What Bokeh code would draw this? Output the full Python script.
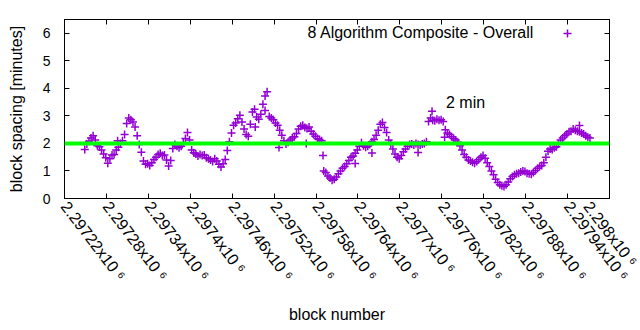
from bokeh.plotting import figure
from bokeh.models import (Range1d, FixedTicker, LinearAxis, Span, Label,
                          Legend, LegendItem)
from bokeh.embed import file_html
from bokeh.resources import INLINE

# ---------------- data ----------------
start_block = 2297249
block_step = 3
spacing = [
    1.78, 1.98, 2.08, 2.2, 2.28, 2.12, 1.92, 1.88, 1.76, 1.62,
    1.48, 1.28, 1.44, 1.58, 1.6, 1.76, 1.86, 2.0, 2.1, 2.32,
    2.72, 2.92, 2.86, 2.78, 2.6, 2.28, 1.96, 1.68, 1.36, 1.24,
    1.26, 1.2, 1.3, 1.42, 1.5, 1.6, 1.64, 1.56, 1.58, 1.4,
    1.18, 1.38, 1.82, 1.96, 1.9, 1.84, 1.9, 2.02, 2.18, 2.4,
    2.12, 1.76, 1.66, 1.62, 1.54, 1.6, 1.56, 1.58, 1.48, 1.44,
    1.4, 1.34, 1.44, 1.36, 1.24, 1.14, 1.26, 1.42, 1.74, 2.06,
    2.38, 2.66, 2.74, 2.9, 3.02, 2.78, 2.52, 2.32, 2.26, 2.7,
    3.14, 3.24, 2.96, 2.88, 3.06, 3.42, 3.72, 3.88, 2.98, 2.92,
    2.86, 2.74, 2.66, 2.48, 2.3, 2.1, 1.98, 2.04, 2.12, 2.2,
    2.24, 2.36, 2.52, 2.62, 2.66, 2.58, 2.54, 2.6, 2.44, 2.34,
    2.26, 2.18, 2.14, 2.1, 1.0, 0.94, 0.82, 0.74, 0.66, 0.7,
    0.78, 0.9, 1.0, 1.1, 1.16, 1.26, 1.38, 1.5, 1.54, 1.64,
    1.76, 1.9, 2.02, 1.92, 1.86, 1.9, 1.96, 2.06, 2.14, 2.3,
    2.48, 2.7, 2.76, 2.58, 2.4, 2.12, 1.98, 1.8, 1.62, 1.5,
    1.44, 1.56, 1.7, 1.8, 1.9, 1.96, 1.98, 1.94, 2.0, 1.96,
    1.94, 1.98, 2.0, 2.06, 2.8, 2.92, 2.84, 2.82, 2.88, 2.84,
    2.86, 2.8, 2.5, 2.38, 2.32, 2.24, 2.18, 2.12, 2.04, 1.92,
    1.76, 1.6, 1.5, 1.4, 1.36, 1.32, 1.28, 1.34, 1.42, 1.5,
    1.56, 1.46, 1.3, 1.16, 1.0, 0.86, 0.7, 0.58, 0.5, 0.46,
    0.44, 0.5, 0.6, 0.72, 0.8, 0.86, 0.9, 0.92, 0.96, 1.0,
    0.98, 0.92, 0.9, 0.88, 0.94, 1.02, 1.1, 1.16, 1.2, 1.3,
    1.5, 1.72, 1.8, 1.78, 1.84, 1.88, 1.98, 2.12, 2.2, 2.28,
    2.34, 2.42, 2.44, 2.52, 2.48, 2.44, 2.42, 2.38, 2.34, 2.28,
    2.22, 2.2,
]
blocks = [start_block + block_step * i for i in range(len(spacing))]

# scattered single blocks off the main band
extra_blocks = [2297296, 2297493, 2297507, 2297527, 2297566, 2297590,
                2297636, 2297660, 2297726, 2297746, 2297764, 2297957]
extra_spacing = [2.1, 2.6, 3.2, 1.85, 2.0, 1.56,
                 1.27, 1.65, 1.67, 3.17, 2.22, 2.65]

target_minutes = 2.0
x_ticks = [2297220, 2297280, 2297340, 2297400, 2297460, 2297520, 2297580,
           2297640, 2297700, 2297760, 2297820, 2297880, 2297940, 2298000]
x_tick_labels = ["2.29722x10 ⁶", "2.29728x10 ⁶", "2.29734x10 ⁶", "2.2974x10 ⁶",
                 "2.29746x10 ⁶", "2.29752x10 ⁶", "2.29758x10 ⁶", "2.29764x10 ⁶",
                 "2.2977x10 ⁶", "2.29776x10 ⁶", "2.29782x10 ⁶", "2.29788x10 ⁶",
                 "2.29794x10 ⁶", "2.298x10 ⁶"]
y_ticks = [0, 1, 2, 3, 4, 5, 6]
series_name = "8 Algorithm Composite - Overall"
note_text = "2 min"
note_x = 2297766
note_y = 3.5

FONT = "Liberation Sans"
PURPLE = "#9400d3"

all_blocks = blocks + extra_blocks
all_spacing = spacing + extra_spacing

p = figure(width=640, height=330, output_backend="svg", toolbar_location=None,
           x_range=Range1d(2297220, 2298000), y_range=Range1d(0, 6.5),
           min_border_left=64, min_border_right=31, min_border_top=19,
           min_border_bottom=132, background_fill_color="white",
           border_fill_color="white")
p.grid.visible = False
p.outline_line_color = "black"
p.outline_line_width = 1

sc = p.scatter(all_blocks, all_spacing, marker="cross", size=8,
               line_color=PURPLE, line_width=1.5)

p.add_layout(Span(location=target_minutes, dimension="width",
                  line_color="#00ff00", line_width=4))

p.add_layout(Label(x=note_x, y=note_y, text=note_text, text_font=FONT,
                   text_font_size="16px", text_baseline="middle",
                   text_color="black"))

xlab = {t: s for t, s in zip(x_ticks, x_tick_labels)}

xa = p.xaxis[0]
xa.ticker = FixedTicker(ticks=x_ticks)
xa.major_label_overrides = xlab
xa.major_label_orientation = -0.92
xa.major_label_text_font = FONT
xa.major_label_text_font_size = "16px"
xa.major_label_standoff = 5
xa.axis_label = "block number"
xa.axis_label_text_font = FONT
xa.axis_label_text_font_size = "16px"
xa.axis_label_text_font_style = "normal"
xa.axis_label_standoff = 14

ya = p.yaxis[0]
ya.ticker = FixedTicker(ticks=y_ticks)
ya.major_label_text_font = FONT
ya.major_label_text_font_size = "14px"
ya.major_label_standoff = 14
ya.axis_label = "block spacing [minutes]"
ya.axis_label_text_font = FONT
ya.axis_label_text_font_size = "16px"
ya.axis_label_text_font_style = "normal"
ya.axis_label_standoff = 15

for ax in (xa, ya):
    ax.major_tick_in = 5
    ax.major_tick_out = 0
    ax.minor_tick_in = 0
    ax.minor_tick_out = 0
    ax.major_label_text_color = "black"
    ax.axis_label_text_color = "black"
    ax.axis_line_color = "black"

mirror_kw = dict(major_tick_in=5, major_tick_out=0, minor_tick_in=0,
                 minor_tick_out=0, major_label_text_color=None,
                 major_label_text_font_size="1px", major_label_standoff=0)
top = LinearAxis(ticker=FixedTicker(ticks=x_ticks), **mirror_kw)
right = LinearAxis(ticker=FixedTicker(ticks=y_ticks), **mirror_kw)
p.add_layout(top, "above")
p.add_layout(right, "right")

# key: title text, then a sample marker to its right (as drawn in the reference)
p.add_layout(Label(x=243, y=166, x_units="screen", y_units="screen",
                   text=series_name, text_font=FONT, text_font_size="16px",
                   text_baseline="middle", text_color="black"))
legend = Legend(items=[LegendItem(label="", renderers=[sc])],
                location=(493, 155), glyph_width=20, glyph_height=20,
                label_height=20, label_width=0, label_standoff=0, padding=0,
                margin=0, border_line_alpha=0, background_fill_alpha=0,
                label_text_font_size="1px", label_text_color=None)
p.add_layout(legend)

open("out.html", "w").write(file_html(p, INLINE))
